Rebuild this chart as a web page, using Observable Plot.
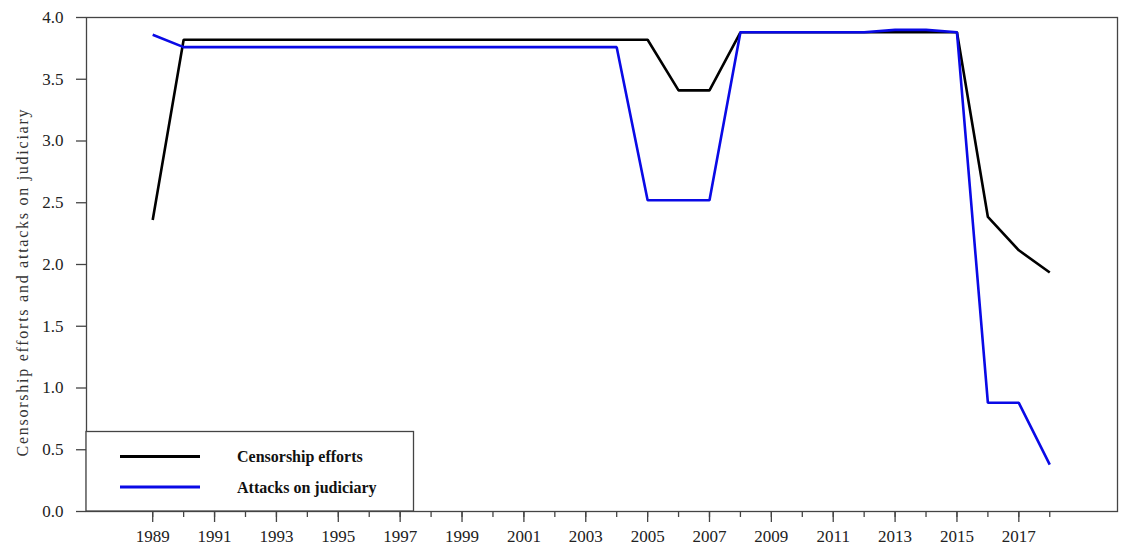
<!DOCTYPE html>
<html>
<head>
<meta charset="utf-8">
<script src="https://cdn.jsdelivr.net/npm/d3@7"></script>
<script src="https://cdn.jsdelivr.net/npm/@observablehq/plot@0.6"></script>
<style>
  html, body { margin: 0; padding: 0; background: #fff; }
  #chart { position: relative; width: 1134px; height: 557px; }
</style>
</head>
<body>
<div id="chart"></div>
<script>
const years = d3.range(1989, 2019);
const censorship = [2.36, 3.82, 3.82, 3.82, 3.82, 3.82, 3.82, 3.82, 3.82, 3.82,
  3.82, 3.82, 3.82, 3.82, 3.82, 3.82, 3.82, 3.41, 3.41, 3.88,
  3.88, 3.88, 3.88, 3.88, 3.88, 3.88, 3.88, 2.385, 2.115, 1.935];
const attacks = [3.86, 3.76, 3.76, 3.76, 3.76, 3.76, 3.76, 3.76, 3.76, 3.76,
  3.76, 3.76, 3.76, 3.76, 3.76, 3.76, 2.52, 2.52, 2.52, 3.88,
  3.88, 3.88, 3.88, 3.88, 3.90, 3.90, 3.88, 0.88, 0.88, 0.38];
const seriesNames = ["Censorship efforts", "Attacks on judiciary"];
const seriesColors = ["#000000", "#0a0ae6"];
const yTicks = [0, 0.5, 1, 1.5, 2, 2.5, 3, 3.5, 4];
const xLabelYears = years.filter(y => y % 2 === 1);
const yLabel = "Censorship efforts and attacks on judiciary";

const data = [];
years.forEach((yr, i) => {
  data.push({year: yr, value: censorship[i], series: seriesNames[0]});
  data.push({year: yr, value: attacks[i], series: seriesNames[1]});
});

const font = "'Liberation Serif', 'Times New Roman', serif";
const axisColor = "#444";

const plot = Plot.plot({
  width: 1134,
  height: 557,
  marginLeft: 86,
  marginRight: 17,
  marginTop: 17,
  marginBottom: 46,
  style: {fontFamily: font, fontSize: "17px", color: "#222", background: "#fff"},
  x: {domain: [1986.86, 2020.19], label: null},
  y: {domain: [0, 4], label: null},
  color: {domain: seriesNames, range: seriesColors},
  marks: [
    Plot.frame({stroke: axisColor, strokeWidth: 1.3}),
    Plot.axisY({ticks: yTicks, tickFormat: d3.format(".1f"), tickSize: 10, tickPadding: 13,
      stroke: axisColor, strokeWidth: 1.3, fontSize: 17, fill: "#222", label: null}),
    Plot.axisX({ticks: years, tickFormat: () => "", tickSize: 6, stroke: axisColor, strokeWidth: 1.3, label: null}),
    Plot.axisX({ticks: xLabelYears, tickFormat: d => String(d), tickSize: 11, tickPadding: 7,
      stroke: axisColor, strokeWidth: 1.3, fontSize: 17, fill: "#222", label: null}),
    Plot.line(data, {x: "year", y: "value", z: "series", stroke: "series", strokeWidth: 2.6,
      strokeLinejoin: "miter", strokeLinecap: "butt"})
  ]
});

document.getElementById("chart").appendChild(plot);

// Legend (inside the plot area, bottom-left) and rotated y-axis title
const svg = d3.select(plot);
const g = svg.append("g").attr("text-anchor", "start");
const xL = 86, yTop = 431.5, xR = 413.5, yBot = 511;
g.append("rect").attr("x", xL).attr("y", yTop).attr("width", xR - xL).attr("height", yBot - yTop)
  .attr("fill", "#fff").attr("stroke", axisColor).attr("stroke-width", 1.3);
seriesNames.forEach((name, i) => {
  const yy = [456.5, 487][i];
  g.append("line").attr("x1", 120).attr("x2", 200).attr("y1", yy).attr("y2", yy)
    .attr("stroke", seriesColors[i]).attr("stroke-width", 3);
  g.append("text").attr("x", 237).attr("y", yy).attr("dy", "0.35em")
    .attr("text-anchor", "start")
    .attr("font-family", font).attr("font-size", 16).attr("font-weight", "bold")
    .attr("fill", "#111").text(name);
});
svg.append("text")
  .attr("transform", "translate(22,283) rotate(-90)")
  .attr("text-anchor", "middle").attr("dy", "0.35em")
  .attr("font-family", font).attr("font-size", 16).attr("fill", "#333")
  .attr("textLength", 347).attr("lengthAdjust", "spacing")
  .text(yLabel);
</script>
</body>
</html>
